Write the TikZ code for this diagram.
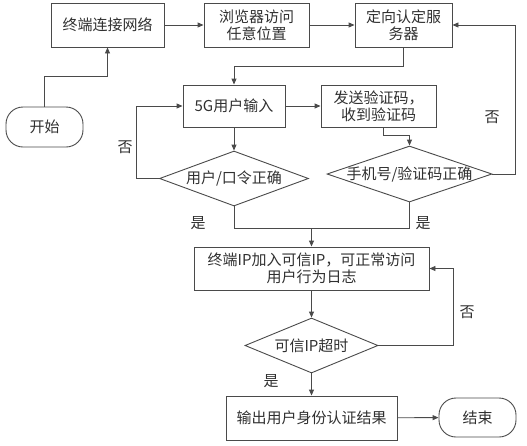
\documentclass[tikz,border=0pt]{standalone}
\usepackage{fontspec}
\setmainfont{Noto Sans CJK SC}
\usetikzlibrary{arrows.meta,
	calc,
	shapes}

\begin{document}
\begin{tikzpicture}[x=1pt,y=-1pt,font=\fontsize{15}{17}\selectfont,
    >={Triangle[length=6pt,width=5pt]}]
    \definecolor{linegray}{HTML}{4A4A4A}
    \definecolor{textgray}{HTML}{303030}
    \tikzstyle{box}=[draw=linegray,line width=0.9pt,text=textgray,align=center,inner sep=0pt]
    \tikzstyle{term}=[box,rounded corners=17pt]
    \tikzstyle{decision}=[draw=linegray,line width=0.9pt,diamond,inner sep=0pt,label={[text=textgray]center:#1}]
    \tikzstyle{flow}=[draw=linegray,line width=0.9pt,->]
    \tikzstyle{answer}=[text=textgray,inner sep=0pt]
    \useasboundingbox (0,0) rectangle (527,445);
    \node[box,minimum width=113pt,minimum height=44pt] (net) at (107.5,25) {终端连接网络};
    \node[box,minimum width=105pt,minimum height=44pt] (browse) at (256.5,25) {浏览器访问\\任意位置};
    \node[box,minimum width=97pt,minimum height=44pt] (server) at (403.5,25) {定向认定服\\务器};
    \node[term,minimum width=77pt,minimum height=40pt] (start) at (44.5,127) {开始};
    \node[box,minimum width=102pt,minimum height=42pt] (input) at (234,106) {5G用户输入};
    \node[box,minimum width=115pt,minimum height=42pt] (code) at (378.5,106) {发送验证码，\\收到验证码};
    \node[decision={用户/口令正确},minimum width=149pt,minimum height=55pt] (pwd) at (234,178.5) {};
    \node[decision={手机号/验证码正确},minimum width=165pt,minimum height=56pt] (phone) at (409.5,174) {};
    \node[box,minimum width=235pt,minimum height=43pt] (trust) at (311.5,268.5) {终端IP加入可信IP，可正常访问\\用户行为日志};
    \node[decision={可信IP超时},minimum width=133pt,minimum height=55pt] (timeout) at (311.5,345.5) {};
    \node[box,minimum width=171pt,minimum height=44pt] (result) at (311.5,418) {输出用户身份认证结果};
    \node[term,minimum width=77pt,minimum height=39pt] (finish) at (477.5,417.5) {结束};
    \coordinate (join) at (311.5,228);

    \draw[flow] (start.north) -- ++(0,-30) -| (net.south);
    \draw[flow] (net) -- (browse);
    \draw[flow] (browse) -- (server);
    \draw[flow] (server.south) -- ++(0,19) -| (input.north);
    \draw[flow] (input) -- (code);
    \draw[flow] (input) -- (pwd);
    \draw[flow] ([xshift=4.5pt]code.south) -- ++(0,8) -| (phone.north);
    \draw[flow] (pwd.west) -- ++(-23,0) |- (input.west);
    \draw[flow] (phone.east) -- ++(23,0) |- (server.east);
    \draw[draw=linegray,line width=0.9pt] (pwd.south) |- (join);
    \draw[draw=linegray,line width=0.9pt] (phone.south) |- (join);
    \draw[flow] (join) -- (trust.north);
    \draw[flow] (trust) -- (timeout);
    \draw[flow] (timeout.east) -- ++(75,0) |- (trust.east);
    \draw[flow] (timeout) -- (result);
    \draw[flow] (result) -- (finish);

    \node[answer] (no1) at (125,147) {否};
    \node[answer] (no2) at (492,117) {否};
    \node[answer] (yes1) at (198,223) {是};
    \node[answer] (yes2) at (423,223) {是};
    \node[answer] (no3) at (467,312) {否};
    \node[answer] (yes3) at (271,381) {是};
  \end{tikzpicture}
\end{document}
